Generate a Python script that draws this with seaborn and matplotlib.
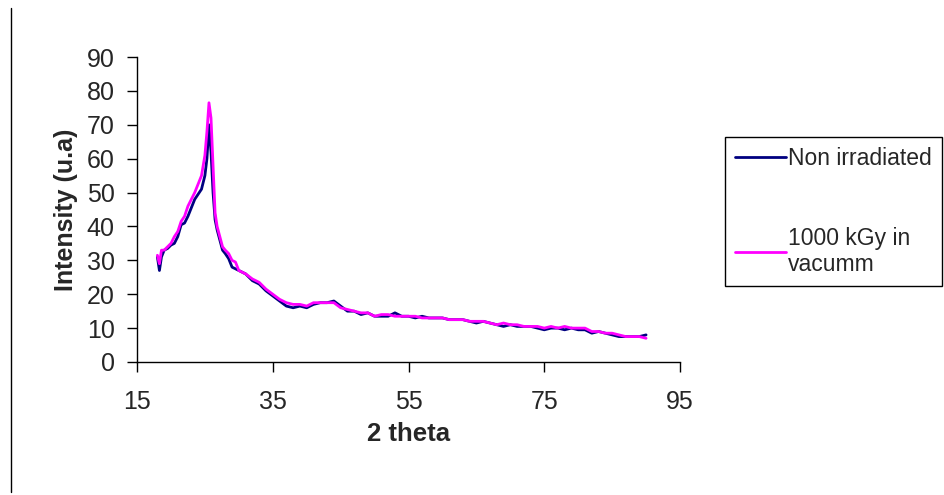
import pandas as pd
import matplotlib.pyplot as plt
import seaborn as sns
from matplotlib.lines import Line2D

two_theta = [18, 18.3, 18.6, 19, 19.5, 20, 20.5, 21, 21.5, 22, 22.5, 23, 23.5, 24, 24.5,
             25, 25.3, 25.6, 25.9, 26.2, 26.5, 26.8, 27.2, 27.6, 28, 28.5, 29, 29.5,
             30, 31, 32, 33, 34, 35, 36, 37, 38, 39, 40, 41, 42, 43, 44, 45, 46, 47, 48,
             49, 50, 51, 52, 53, 54, 55, 56, 57, 58, 59, 60, 61, 62, 63, 64, 65, 66, 67,
             68, 69, 70, 71, 72, 73, 74, 75, 76, 77, 78, 79, 80, 81, 82, 83, 84, 85, 86,
             87, 88, 89, 90]

non_irradiated = [31, 27, 31, 33, 33.5, 34.5, 35, 37, 40.5, 41, 43, 45.5, 48, 49.5, 51,
                  55, 60, 70, 62, 50, 42, 39, 36, 33, 32, 30.5, 28, 27.5,
                  27, 26, 24, 23, 21, 19.5, 18, 16.5, 16, 16.5, 16, 17, 17.5, 17.5, 18,
                  16.5, 15, 15, 14, 14.5, 13.5, 13.5, 13.5, 14.5, 13.5, 13.5, 13, 13.5,
                  13, 13, 13, 12.5, 12.5, 12.5, 12, 11.5, 12, 11.5, 11, 10.5, 11, 10.5,
                  10.5, 10.5, 10, 9.5, 10, 10, 9.5, 10, 9.5, 9.5, 8.5, 9, 8.5, 8, 7.5,
                  7.5, 7.5, 7.5, 8]

irradiated_1000 = [31.5, 29, 33, 33, 34, 35, 37, 38.5, 41.5, 43, 46, 48, 50, 52.5, 55,
                   61, 68, 76.5, 72, 58, 44, 40, 37, 34, 33, 32, 30, 29.5,
                   27, 26, 24.5, 23.5, 21.5, 20, 18.5, 17.5, 17, 17, 16.5, 17.5, 17.5,
                   17.5, 17.5, 16, 15.5, 15, 14.5, 14.5, 13.5, 14, 14, 13.5, 13.5, 13.5,
                   13.5, 13, 13, 13, 13, 12.5, 12.5, 12.5, 12, 12, 12, 11.5, 11, 11.5, 11,
                   11, 10.5, 10.5, 10.5, 10, 10.5, 10, 10.5, 10, 10, 10, 9, 9, 8.5, 8.5,
                   8, 7.5, 7.5, 7.5, 7]

labels = ["Non irradiated", "1000 kGy in\nvacumm"]

df = pd.DataFrame({
    "2 theta": two_theta * 2,
    "Intensity": non_irradiated + irradiated_1000,
    "Sample": [labels[0]] * len(two_theta) + [labels[1]] * len(two_theta),
})

sns.set_style("ticks")
plt.rcParams['font.family'] = ['Liberation Sans', 'DejaVu Sans']

fig = plt.figure(figsize=(9.45, 4.95), dpi=100)
ax = fig.add_axes([0.145, 0.2687, 0.5746, 0.6161])

sns.lineplot(data=df, x="2 theta", y="Intensity", hue="Sample",
             palette=["#000080", "#FF00FF"], linewidth=2, ax=ax)

ax.set_xlim(15, 95)
ax.set_ylim(0, 90)
ax.set_xticks([15, 35, 55, 75, 95])
ax.set_yticks(range(0, 91, 10))
ax.tick_params(labelsize=18, length=7, width=1, color="black")
ax.tick_params(axis="x", pad=13)
ax.tick_params(axis="y", pad=9)
ax.set_xlabel("2 theta", fontsize=18.5, fontweight="bold", labelpad=6)
ax.set_ylabel("Intensity (u.a)", fontsize=18, fontweight="bold", labelpad=6)
sns.despine(ax=ax)
for s in ["left", "bottom"]:
    ax.spines[s].set_color("black")
    ax.spines[s].set_linewidth(1)

handles, _ = ax.get_legend_handles_labels()
ax.legend(handles, labels, loc="upper left", bbox_to_anchor=(0.767, 0.723),
          bbox_transform=fig.transFigure, fontsize=16.5, frameon=True, fancybox=False,
          edgecolor="black", framealpha=1, handlelength=2.2, handletextpad=0.1,
          labelspacing=2.45, borderpad=0.45, borderaxespad=0)
ax.get_legend().get_frame().set_linewidth(1)

# border line at the left edge of the picture
fig.add_artist(Line2D([0.0116, 0.0116], [0.006, 0.984], color="black", linewidth=1))

fig.savefig("out.png", dpi=100)
